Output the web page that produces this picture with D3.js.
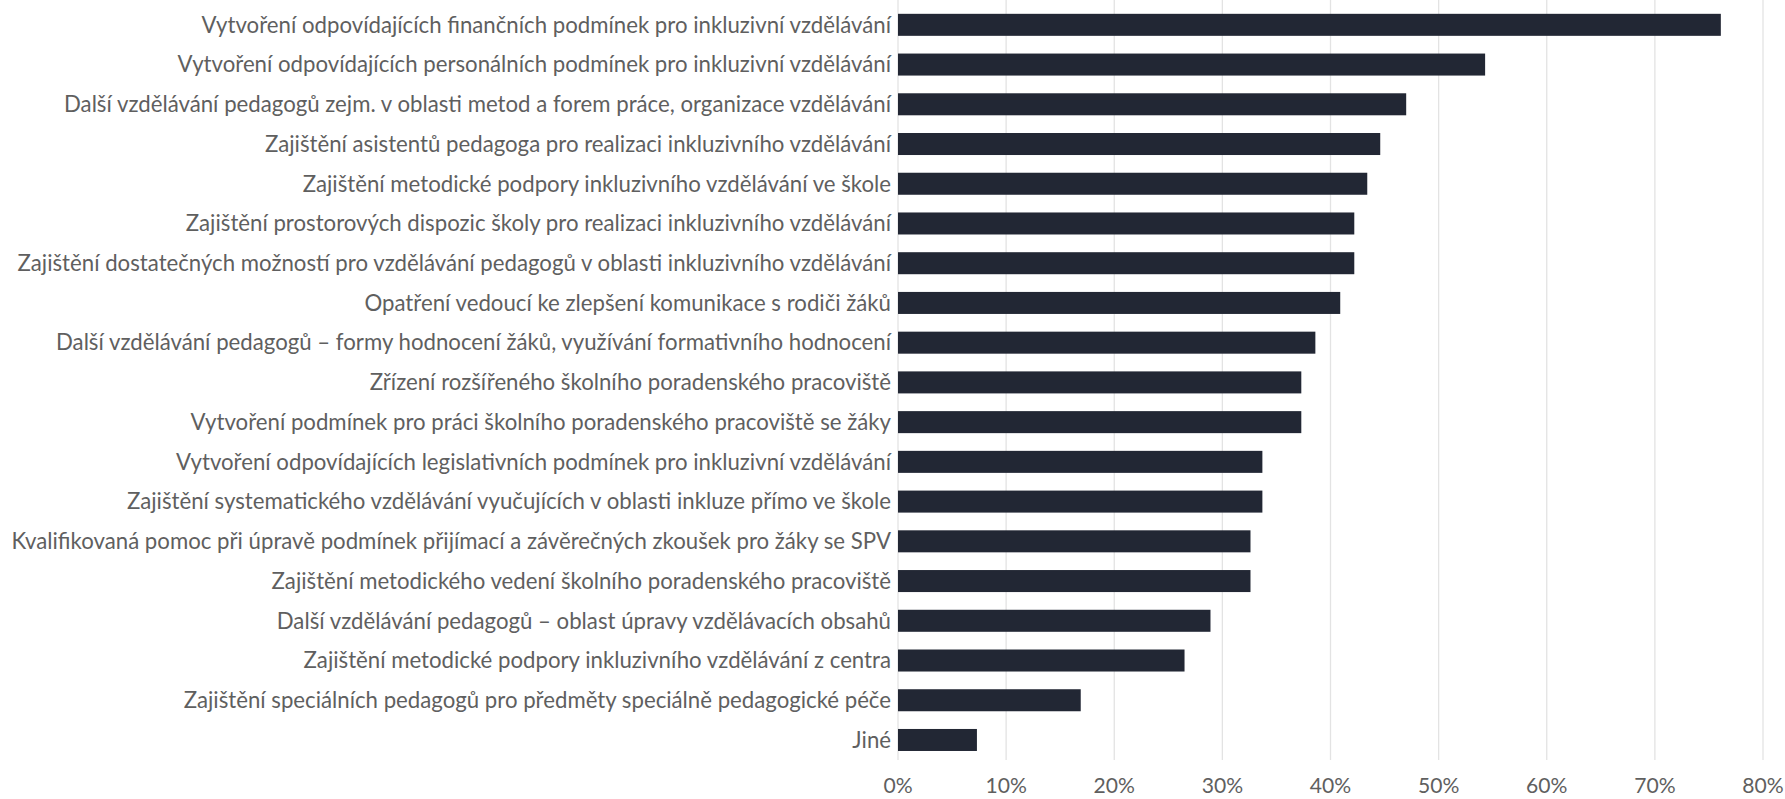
<!DOCTYPE html>
<html>
<head>
<meta charset="utf-8">
<script src="https://cdn.jsdelivr.net/npm/d3@7"></script>
<style>
  html, body { margin: 0; padding: 0; background: #ffffff; }
  svg { display: block; }
</style>
</head>
<body>
<svg id="chart" width="1785" height="799"></svg>
<script>
const categories = [
  "Vytvoření odpovídajících finančních podmínek pro inkluzivní vzdělávání",
  "Vytvoření odpovídajících personálních podmínek pro inkluzivní vzdělávání",
  "Další vzdělávání pedagogů zejm. v oblasti metod a forem práce, organizace vzdělávání",
  "Zajištění asistentů pedagoga pro realizaci inkluzivního vzdělávání",
  "Zajištění metodické podpory inkluzivního vzdělávání ve škole",
  "Zajištění prostorových dispozic školy pro realizaci inkluzivního vzdělávání",
  "Zajištění dostatečných možností pro vzdělávání pedagogů v oblasti inkluzivního vzdělávání",
  "Opatření vedoucí ke zlepšení komunikace s rodiči žáků",
  "Další vzdělávání pedagogů – formy hodnocení žáků, využívání formativního hodnocení",
  "Zřízení rozšířeného školního poradenského pracoviště",
  "Vytvoření podmínek pro práci školního poradenského pracoviště se žáky",
  "Vytvoření odpovídajících legislativních podmínek pro inkluzivní vzdělávání",
  "Zajištění systematického vzdělávání vyučujících v oblasti inkluze přímo ve škole",
  "Kvalifikovaná pomoc při úpravě podmínek přijímací a závěrečných zkoušek pro žáky se SPV",
  "Zajištění metodického vedení školního poradenského pracoviště",
  "Další vzdělávání pedagogů – oblast úpravy vzdělávacích obsahů",
  "Zajištění metodické podpory inkluzivního vzdělávání z centra",
  "Zajištění speciálních pedagogů pro předměty speciálně pedagogické péče",
  "Jiné"
];
const values = [76.1, 54.3, 47.0, 44.6, 43.4, 42.2, 42.2, 40.9, 38.6, 37.3, 37.3, 33.7, 33.7, 32.6, 32.6, 28.9, 26.5, 16.9, 7.3];
const tickValues = [0, 10, 20, 30, 40, 50, 60, 70, 80];
const tickLabels = ["0%", "10%", "20%", "30%", "40%", "50%", "60%", "70%", "80%"];

const svg = d3.select("#chart");
const fontFamily = "Lato, 'Open Sans', sans-serif";
const textColor = "#5f5f5f";

const x = d3.scaleLinear().domain([0, 80]).range([898, 1763]);
const y = d3.scaleBand().domain(categories).range([-3.9, 768.7]).padding(0.446);

// gridlines
svg.append("g").selectAll("line").data(tickValues).join("line")
  .attr("x1", d => x(d)).attr("x2", d => x(d))
  .attr("y1", 0).attr("y2", 760)
  .attr("stroke", "#e3e3e3").attr("stroke-width", 1.3);

// bars
svg.append("g").selectAll("rect").data(values).join("rect")
  .attr("x", x(0))
  .attr("y", (d, i) => y(categories[i]))
  .attr("width", d => x(d) - x(0))
  .attr("height", y.bandwidth())
  .attr("fill", "#222734");

// category labels
const labels = svg.append("g").selectAll("text").data(categories).join("text")
  .attr("x", 891)
  .attr("y", d => y(d) + y.bandwidth() / 2)
  .attr("dy", "0.35em")
  .attr("text-anchor", "end")
  .attr("fill", textColor)
  .attr("font-family", fontFamily)
  .attr("font-size", 18)
  .text(d => d);

// fit font size so longest label spans the measured width
let maxW = 0;
labels.each(function() { maxW = Math.max(maxW, this.getComputedTextLength()); });
const fs = 18 * 880 / maxW;
labels.attr("font-size", fs);

// x axis tick labels
svg.append("g").selectAll("text").data(tickValues).join("text")
  .attr("x", d => x(d))
  .attr("y", 793)
  .attr("text-anchor", "middle")
  .attr("fill", textColor)
  .attr("font-family", fontFamily)
  .attr("font-size", fs * 0.95)
  .text((d, i) => tickLabels[i]);
</script>
</body>
</html>
